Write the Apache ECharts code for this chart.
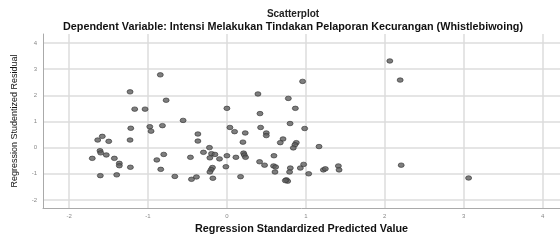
<!DOCTYPE html>
<html>
<head>
<meta charset="utf-8">
<script src="https://cdn.jsdelivr.net/npm/echarts@6/dist/echarts.min.js"></script>
<style>
  html, body { margin: 0; padding: 0; background: #fff; }
  #chart { width: 560px; height: 240px; }
</style>
</head>
<body>
<div id="chart"></div>
<script>
// Regression standardized predicted value (x) vs studentized residual (y)
const predicted = [
  -0.844, -1.227, -0.770, -1.168, -1.037, -0.555, -0.977, -0.817, -1.218, -0.961,
  -1.579, -1.637, -1.497, -1.227, -0.368, -0.368, -1.608, -1.599, -1.528, -1.706,
  -1.426, -1.363, -1.363, -1.223, -0.888, -0.800, -0.838, -0.462, -1.604, -1.396,
  -0.660, -0.449, -0.386,
  0.959, 0.393, 0.778, 0.000, 0.867, 0.419, 0.800, 0.038, 0.985, 0.427,
  0.097, 0.232, 0.499, 0.499, 0.711, 0.676, 0.203, 0.879, 0.862, 0.841,
  1.167, -0.221, -0.297, -0.195, -0.152, -0.216, -0.094, 0.000, 0.114, 0.211,
  0.220, 0.236, 0.596, 0.414, 0.477, 0.591, 0.617, 0.803, 0.930, 0.972,
  -0.013, -0.183, -0.199, -0.216, 0.609, 0.794, 1.036, 1.222, 1.247, 1.412,
  1.421, -0.178, 0.173, 0.753, 0.770, 0.740,
  2.064, 2.195, 2.208, 3.062
];
const residual = [
  2.78, 2.13, 1.81, 1.47, 1.47, 1.04, 0.80, 0.84, 0.74, 0.63,
  0.43, 0.29, 0.24, 0.29, 0.52, 0.25, -0.12, -0.20, -0.28, -0.41,
  -0.41, -0.60, -0.69, -0.75, -0.47, -0.26, -0.83, -0.37, -1.07, -1.04,
  -1.10, -1.21, -1.12,
  2.53, 2.05, 1.88, 1.50, 1.50, 1.30, 0.92, 0.77, 0.73, 0.77,
  0.61, 0.56, 0.56, 0.46, 0.33, 0.19, 0.21, 0.19, 0.11, -0.01,
  0.04, 0.00, -0.18, -0.23, -0.26, -0.39, -0.43, -0.31, -0.37, -0.21,
  -0.28, -0.37, -0.31, -0.54, -0.67, -0.70, -0.74, -0.78, -0.78, -0.64,
  -0.73, -0.76, -0.84, -0.93, -0.93, -0.93, -1.00, -0.85, -0.81, -0.70,
  -0.85, -1.17, -1.11, -1.23, -1.28, -1.26,
  3.31, 2.58, -0.67, -1.16
];
const xTicks = [-2, -1, 0, 1, 2, 3, 4];
const yTicks = [-2, -1, 0, 1, 2, 3, 4];

const chart = echarts.init(document.getElementById('chart'), null, { renderer: 'canvas' });

const labelStyle = { color: '#888', fontSize: 6, fontFamily: 'Liberation Sans' };

chart.setOption({
  animation: false,
  title: [
    {
      text: 'Scatterplot',
      left: 288, top: 4, textAlign: 'center',
      textStyle: { fontSize: 10, fontWeight: 'bold', color: '#222', fontFamily: 'Liberation Sans' }
    },
    {
      text: 'Dependent Variable: Intensi Melakukan Tindakan Pelaporan Kecurangan (Whistlebiwoing)',
      left: 288, top: 17, textAlign: 'center',
      textStyle: { fontSize: 10.8, fontWeight: 'bold', color: '#111', fontFamily: 'Liberation Sans' }
    }
  ],
  grid: { left: 43, right: 0, top: 34, bottom: 27 },
  xAxis: {
    type: 'value',
    min: -2.33, max: 4.22,
    name: 'Regression Standardized Predicted Value',
    nameLocation: 'middle', nameGap: 15,
    nameTextStyle: { fontSize: 10.8, fontWeight: 'bold', color: '#111', fontFamily: 'Liberation Sans' },
    axisLine: { show: true, onZero: false, lineStyle: { color: '#aaa', width: 1 } },
    axisTick: { show: false, customValues: xTicks },
    axisLabel: Object.assign({ customValues: xTicks, margin: 5 }, labelStyle),
    splitLine: { show: true, lineStyle: { color: '#dcdcdc', width: 1.5 } }
  },
  yAxis: {
    type: 'value',
    min: -2.31, max: 4.34,
    name: 'Regression Studentized Residual',
    nameLocation: 'middle', nameGap: 24, nameRotate: 90,
    nameTextStyle: { fontSize: 9, color: '#111', fontFamily: 'Liberation Sans' },
    axisLine: { show: true, onZero: false, lineStyle: { color: '#aaa', width: 1 } },
    axisTick: { show: false, customValues: yTicks },
    axisLabel: Object.assign({ customValues: yTicks, margin: 6 }, labelStyle),
    splitLine: { show: true, lineStyle: { color: '#dcdcdc', width: 1.5 } }
  },
  series: [{
    type: 'scatter',
    data: predicted.map((x, i) => [x, residual[i]]),
    symbol: 'circle',
    symbolSize: [6, 4.5],
    itemStyle: { color: '#5e5e5e', borderColor: '#333', borderWidth: 0.8 }
  }]
});
</script>
</body>
</html>
